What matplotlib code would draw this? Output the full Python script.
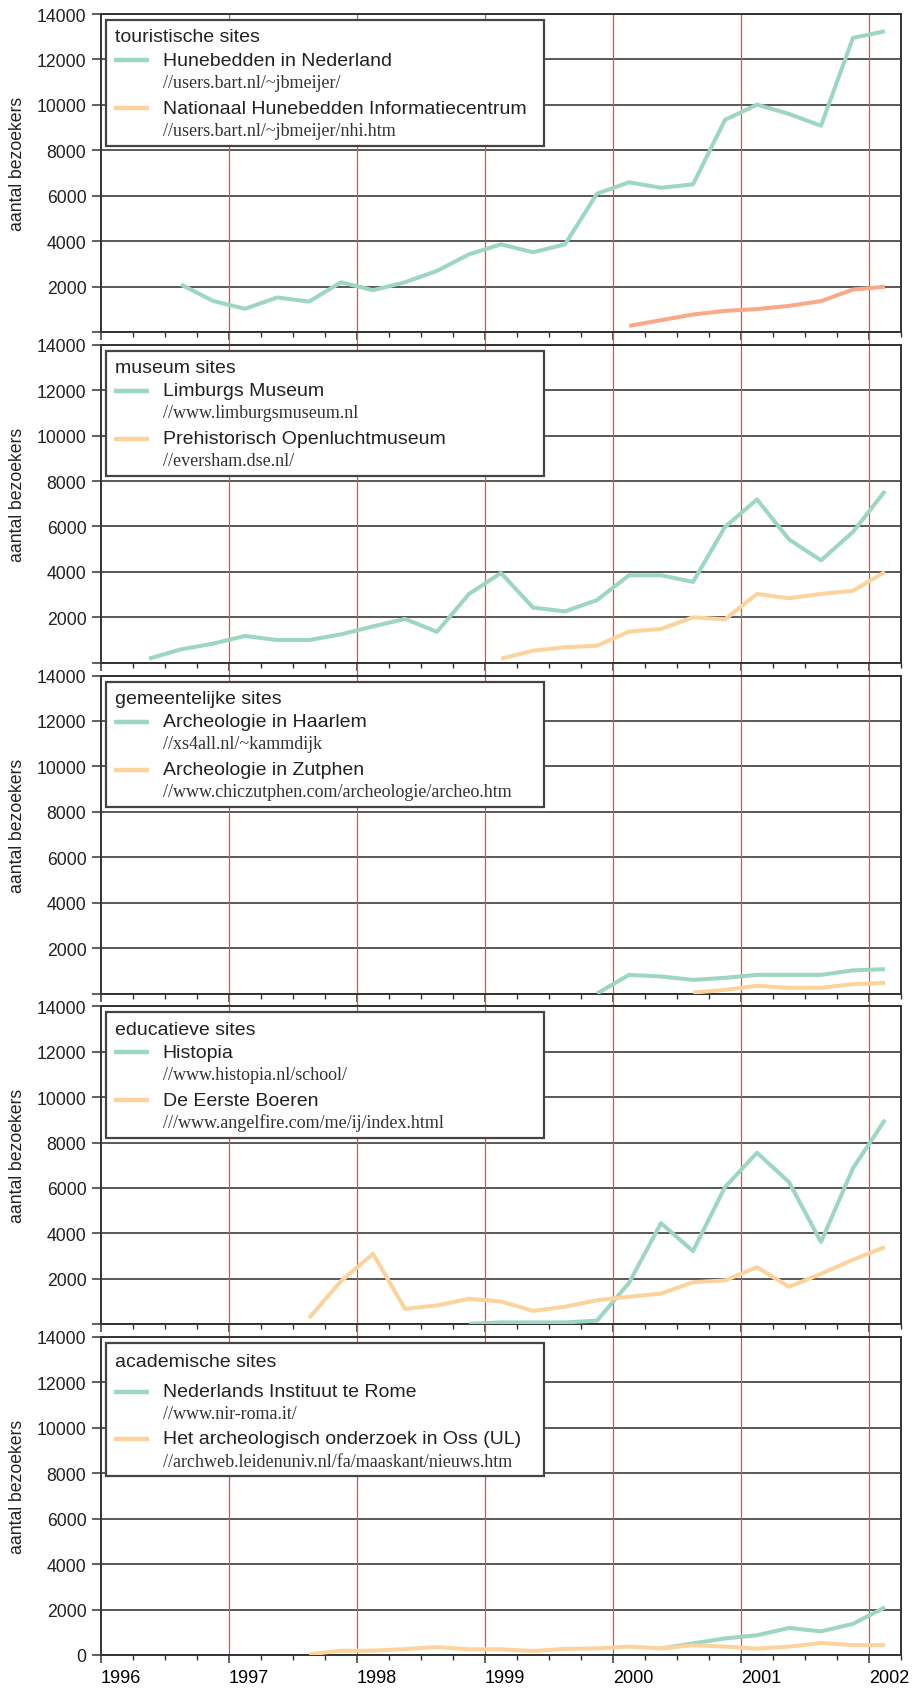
import numpy as np
import matplotlib
matplotlib.use("Agg")
import matplotlib.pyplot as plt
from matplotlib.patches import Rectangle
from matplotlib.lines import Line2D

plt.rcParams['font.family'] = ['Liberation Sans', 'DejaVu Sans']

# quarterly time axis, values are plotted at the middle of each quarter
quarters = [f"{y}Q{q}" for y in range(1996, 2002) for q in range(1, 5)] + ["2002Q1"]

# --- touristische sites ---
hunebedden_start = "1996Q3"
hunebedden = [2090, 1370, 1020, 1520, 1340, 2190, 1840, 2190, 2690, 3420, 3860, 3510,
              3860, 6090, 6590, 6350, 6500, 9340, 10010, 9600, 9080, 12950, 13240]
nhi_start = "2000Q1"
nhi = [270, 520, 770, 930, 1010, 1150, 1360, 1870, 1990]

# --- museum sites ---
limburgs_start = "1996Q2"
limburgs = [180, 590, 840, 1180, 1000, 1000, 1250, 1600, 1930, 1360, 3030, 3950,
            2430, 2260, 2760, 3850, 3850, 3560, 5980, 7190, 5430, 4510, 5760, 7560]
openlucht_start = "1999Q1"
openlucht = [180, 530, 680, 750, 1370, 1490, 2000, 1910, 3030, 2840, 3030, 3170, 4000]

# --- gemeentelijke sites ---
haarlem_start = "1999Q4"
haarlem = [0, 820, 750, 600, 690, 820, 820, 820, 1020, 1070]
zutphen_start = "2000Q3"
zutphen = [40, 160, 340, 250, 250, 410, 470]

# --- educatieve sites ---
histopia_start = "1998Q4"
histopia = [20, 80, 80, 80, 160, 1820, 4450, 3220, 6040, 7550, 6260, 3620, 6870, 9000]
boeren_start = "1997Q3"
boeren = [270, 1900, 3100, 680, 830, 1120, 1000, 590, 770, 1060, 1210, 1350, 1850,
          1930, 2510, 1650, 2220, 2840, 3400]

# --- academische sites ---
rome_start = "2000Q2"
rome = [290, 510, 730, 870, 1190, 1040, 1370, 2100]
oss_start = "1997Q3"
oss = [30, 190, 190, 260, 350, 250, 250, 175, 270, 290, 370, 290, 430, 370, 280, 370,
       530, 440, 440]

GREEN = '#9dd6c2'
ORANGE = '#fdd39c'
SALMON = '#f9a88a'
RED = '#e8503a'

panels = [
    ("touristische sites", [
        ("Hunebedden in Nederland", "//users.bart.nl/~jbmeijer/", hunebedden_start, hunebedden, GREEN, GREEN),
        ("Nationaal Hunebedden Informatiecentrum", "//users.bart.nl/~jbmeijer/nhi.htm", nhi_start, nhi, SALMON, ORANGE),
    ]),
    ("museum sites", [
        ("Limburgs Museum", "//www.limburgsmuseum.nl", limburgs_start, limburgs, GREEN, GREEN),
        ("Prehistorisch Openluchtmuseum", "//eversham.dse.nl/", openlucht_start, openlucht, ORANGE, ORANGE),
    ]),
    ("gemeentelijke sites", [
        ("Archeologie in Haarlem", "//xs4all.nl/~kammdijk", haarlem_start, haarlem, GREEN, GREEN),
        ("Archeologie in Zutphen", "//www.chiczutphen.com/archeologie/archeo.htm", zutphen_start, zutphen, ORANGE, ORANGE),
    ]),
    ("educatieve sites", [
        ("Histopia", "//www.histopia.nl/school/", histopia_start, histopia, GREEN, GREEN),
        ("De Eerste Boeren", "///www.angelfire.com/me/ij/index.html", boeren_start, boeren, ORANGE, ORANGE),
    ]),
    ("academische sites", [
        ("Nederlands Instituut te Rome", "//www.nir-roma.it/", rome_start, rome, GREEN, GREEN),
        ("Het archeologisch onderzoek in Oss (UL)", "//archweb.leidenuniv.nl/fa/maaskant/nieuws.htm", oss_start, oss, ORANGE, ORANGE),
    ]),
]


def qpos(label):
    y, q = label.split("Q")
    return int(y) + (int(q) - 1) * 0.25 + 0.125


W, H = 915, 1690
AX_L, AX_W, AX_H = 101, 800, 318
PITCH = 330.75
fig = plt.figure(figsize=(W / 100, H / 100), dpi=100)

# legend layout in pixels below the top of each panel
layout_std = dict(top=6, title=22.8, rows=[(46, 68), (94, 116)], bottom=131.5)
layout_last = dict(top=6, title=24.7, rows=[(55, 77), (102, 124.7)], bottom=138.7)

for i, (title, series) in enumerate(panels):
    top = 15 + i * PITCH
    ax = fig.add_axes([AX_L / W, 1 - (top + AX_H) / H, AX_W / W, AX_H / H])
    last = i == len(panels) - 1

    ax.set_xlim(1996, 1996 + AX_W / 128.8)
    ax.set_ylim(0, 14000)

    for name, url, start, vals, col, lcol in series:
        k = quarters.index(start)
        xs = [qpos(q) for q in quarters[k:k + len(vals)]]
        ax.plot(xs, vals, color=col, lw=2.9, zorder=3, solid_capstyle='butt')

    # grid + year separators
    ax.set_yticks(range(0, 14001, 2000))
    ax.yaxis.grid(True, color='#3c3c3c', lw=1.2, zorder=1)
    ax.set_axisbelow(True)
    for yr in range(1997, 2003):
        ax.axvline(yr, ymin=0 if last else -0.041, ymax=1, color=RED, lw=0.9,
                   clip_on=False, zorder=1.5)

    for sp in ax.spines.values():
        sp.set_color('#333333')
        sp.set_linewidth(1.4)

    ax.set_xticks(range(1996, 2003))
    ax.set_xticks(np.arange(1996, 2002.3, 0.25), minor=True)
    ax.tick_params(axis='x', which='major', length=5.8, width=1.1, direction='out',
                   color='#333333', labelsize=13, pad=4)
    ax.tick_params(axis='x', which='minor', length=3.6, width=1.0, direction='out',
                   color='#333333')
    ax.tick_params(axis='y', length=6.5, width=1.1, direction='out', color='#333333',
                   labelsize=12.7, pad=4, labelcolor='#222222')
    if last:
        ax.set_yticklabels([str(v) for v in range(0, 14001, 2000)])
        for lab in ax.get_xticklabels():
            lab.set_ha('left')
    else:
        ax.set_yticklabels([''] + [str(v) for v in range(2000, 14001, 2000)])
        ax.tick_params(axis='x', labelbottom=False)

    fig.text(18 / W, 1 - (top + AX_H / 2 - 10) / H, 'aantal bezoekers', rotation=90,
             ha='center', va='center', fontsize=12.7, color='#222222')

    # legend box drawn by hand (title, name + url per series)
    lay = layout_last if last else layout_std
    fx = lambda px: px / AX_W
    fy = lambda py: 1 - py / AX_H
    ax.add_patch(Rectangle((fx(4.5), fy(lay['bottom'])), fx(443) - fx(4.5),
                           (lay['bottom'] - lay['top']) / AX_H, transform=ax.transAxes,
                           facecolor='white', edgecolor='#444444', lw=1.6, zorder=5,
                           clip_on=False))
    ax.text(fx(14), fy(lay['title']), title, transform=ax.transAxes, ha='left',
            va='center', fontsize=14, color='#222222', zorder=6)
    for (name, url, start, vals, col, lcol), (ny, uy) in zip(series, lay['rows']):
        ax.add_line(Line2D([fx(13), fx(48)], [fy(ny), fy(ny)], transform=ax.transAxes,
                           color=lcol, lw=3.2, zorder=6, solid_capstyle='butt'))
        ax.text(fx(61.7), fy(ny), name, transform=ax.transAxes, ha='left', va='center',
                fontsize=14, color='#222222', zorder=6)
        ax.text(fx(61.7), fy(uy), url, transform=ax.transAxes, ha='left', va='center',
                fontsize=13, family=['Liberation Serif', 'DejaVu Serif'],
                color='#333333', zorder=6)

fig.savefig('out.png', dpi=100)
